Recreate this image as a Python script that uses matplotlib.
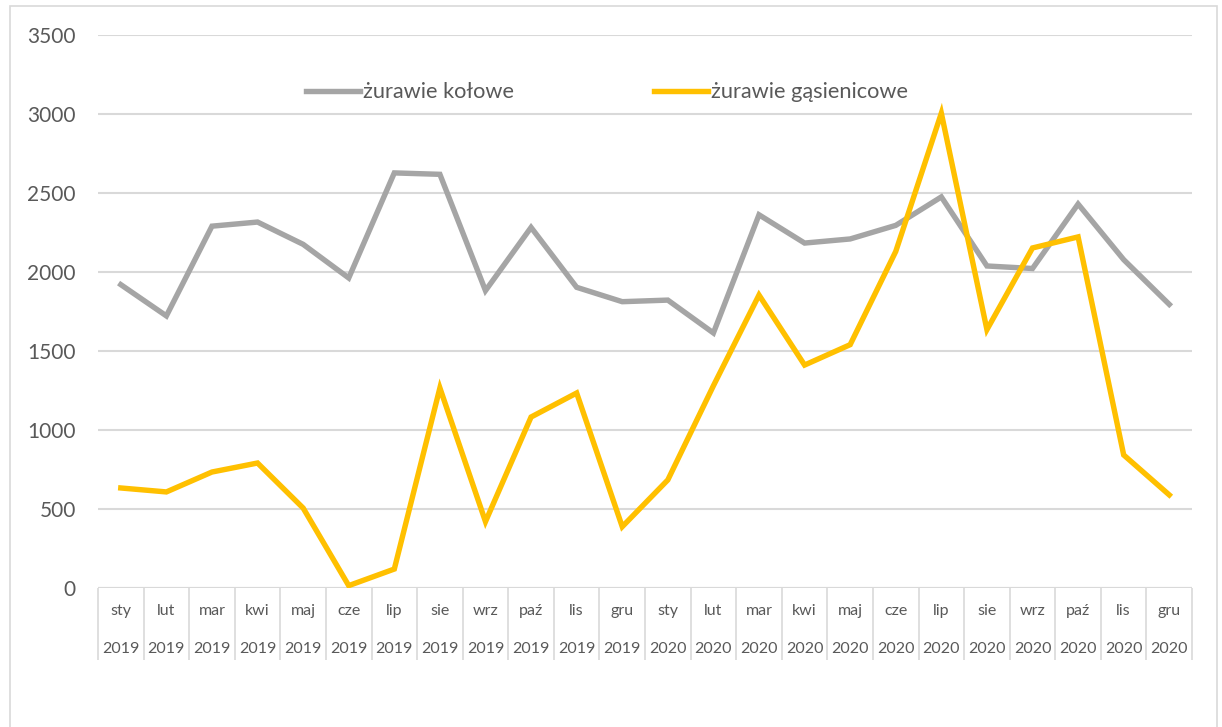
import matplotlib.pyplot as plt
from matplotlib.patches import Rectangle

plt.rcParams['font.family'] = ['Lato', 'DejaVu Sans']

months = ['sty', 'lut', 'mar', 'kwi', 'maj', 'cze', 'lip', 'sie', 'wrz', 'paź', 'lis', 'gru'] * 2
years = ['2019'] * 12 + ['2020'] * 12

kolowe = [1920, 1722, 2290, 2316, 2175, 1962, 2627, 2618, 1882, 2282, 1903, 1812,
          1822, 1614, 2362, 2183, 2209, 2295, 2475, 2038, 2022, 2430, 2078, 1795]
gasienicowe = [633, 608, 734, 791, 506, 15, 120, 1266, 420, 1082, 1234, 388,
               684, 1280, 1854, 1411, 1540, 2130, 3005, 1635, 2152, 2222, 842, 589]

fig = plt.figure(figsize=(12.22, 7.27), dpi=100)
ax = fig.add_axes([0.0802, 0.1912, 0.8953, 0.7607])

# frame around the whole chart
fig.patches.append(Rectangle((10 / 1222, -0.1), 1207 / 1222, 1.1 - 6 / 727,
                             transform=fig.transFigure, fill=False,
                             edgecolor='#d9d9d9', linewidth=1.2))

x = list(range(len(months)))
ax.plot(x, kolowe, color='#a5a5a5', linewidth=3.9, label='żurawie kołowe',
        solid_joinstyle='miter', zorder=3)
ax.plot(x, gasienicowe, color='#ffc000', linewidth=3.9, label='żurawie gąsienicowe',
        solid_joinstyle='miter', zorder=4)

ax.set_xlim(-0.5, len(months) - 0.5)
ax.set_ylim(0, 3500)
ax.set_yticks(range(0, 3501, 500))
ax.yaxis.grid(True, color='#d9d9d9', linewidth=1.5)
ax.set_axisbelow(True)
for s in ax.spines.values():
    s.set_visible(False)
ax.axhline(0, color='#d9d9d9', linewidth=1.5, zorder=2)

ax.tick_params(axis='y', length=0, pad=16, labelsize=15, labelcolor='#595959')
ax.set_xticks(x)
ax.set_xticklabels([])
ax.tick_params(axis='x', which='major', length=0)
ax.set_xticks([i - 0.5 for i in range(len(months) + 1)], minor=True)
ax.tick_params(axis='x', which='minor', length=52, width=1.2, color='#d9d9d9')

tr = ax.get_xaxis_transform()
for i in x:
    ax.text(i, -23 / 553, months[i], transform=tr, ha='center', va='center',
            fontsize=11.5, color='#595959')
    ax.text(i, -61 / 553, years[i], transform=tr, ha='center', va='center',
            fontsize=11.5, color='#595959')

leg = ax.legend(loc='upper center', bbox_to_anchor=(0.465, 0.95), ncol=2, frameon=False,
                fontsize=15.7, handlelength=2.5, handletextpad=0.12, columnspacing=6.4)
for t in leg.get_texts():
    t.set_color('#595959')

fig.savefig('out.png', dpi=100)
